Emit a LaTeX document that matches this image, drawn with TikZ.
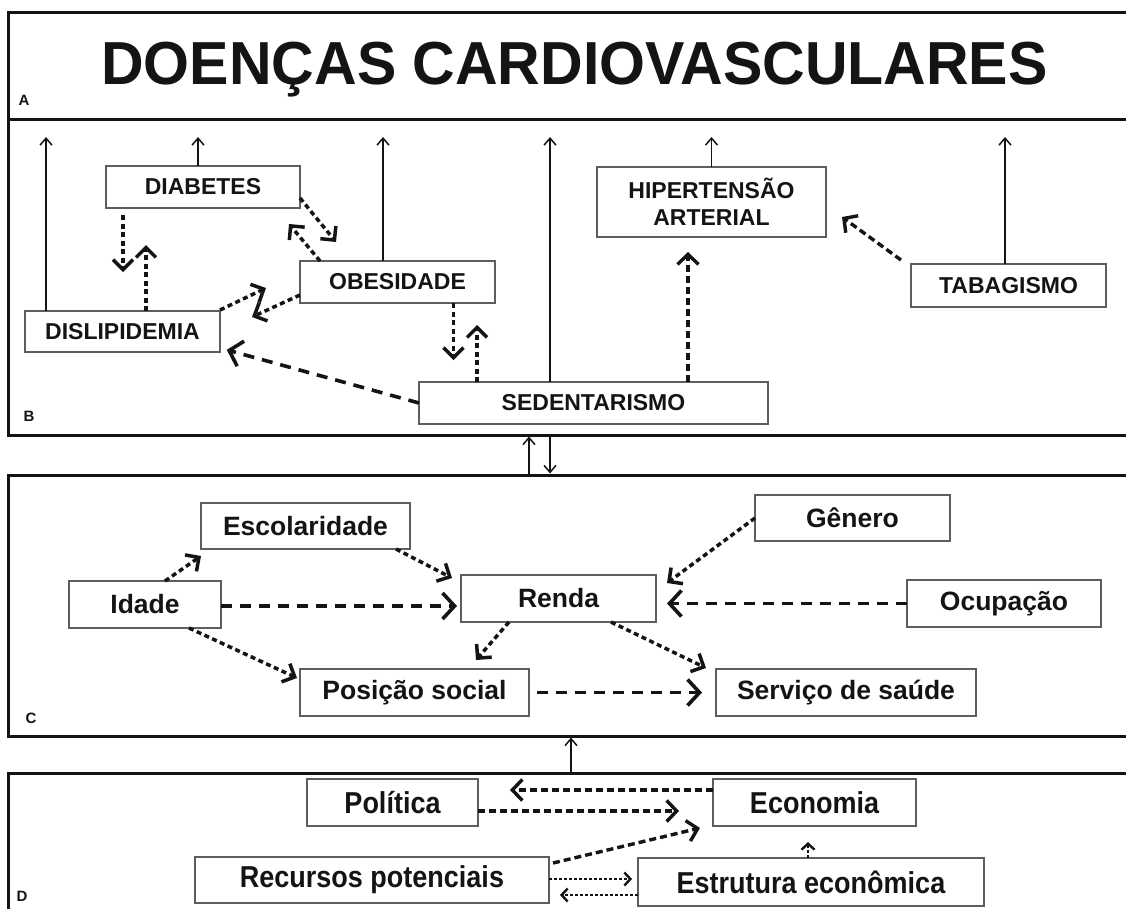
\documentclass[tikz,border=0pt]{standalone}
\usepackage{fontspec}
\setmainfont{Liberation Sans}
\usetikzlibrary{arrows.meta}
\definecolor{boxgray}{HTML}{5E5E5E}
\definecolor{ink}{HTML}{141414}
\tikzset{
  panel/.style={draw=ink, line width=3pt, rectangle, inner sep=0pt, outer sep=0pt},
  box/.style={draw=boxgray, line width=1.5pt, fill=white, rectangle, inner sep=0pt, outer sep=0pt, align=center, text=ink, font=\bfseries\fontsize{23}{27}\selectfont},
  boxc/.style={box, font=\bfseries\fontsize{26.5}{30}\selectfont},
  boxd/.style={box, font=\bfseries\fontsize{27}{30}\selectfont},
  solidarr/.style={draw=ink, line width=1.5pt, -{Straight Barb[length=7pt,width=12pt]}},
  dotarr/.style={draw=ink, line width=3.5pt, dash pattern=on 5pt off 3.5pt, -{Straight Barb[length=10pt,width=20pt]}},
  middash/.style={draw=ink, line width=3.4pt, dash pattern=on 7pt off 4pt, -{Straight Barb[length=10pt,width=21pt]}},
  dasharr/.style={draw=ink, line width=3.6pt, dash pattern=on 11pt off 8pt, -{Straight Barb[length=12pt,width=26pt]}},
  finearr/.style={draw=ink, line width=2.4pt, dash pattern=on 3pt off 2pt, -{Straight Barb[length=6pt,width=13pt]}},
  lbl/.style={font=\bfseries\fontsize{15}{15}\selectfont, text=ink, inner sep=0pt},
}
\newcommand{\tallD}[1]{\scalebox{1}[1.12]{#1}}
\begin{document}
\begin{tikzpicture}[x=1pt,y=-1pt]
\useasboundingbox (0,0) rectangle (1126,908);
\fill[white] (0,0) rectangle (1126,908);
\clip (0,0) rectangle (1126,908);

% panels
\node[panel, minimum width=1132pt, minimum height=107pt] (pA) at (574,65.5) {};
\node[panel, minimum width=1132pt, minimum height=316pt] (pB) at (574,277) {};
\node[panel, minimum width=1132pt, minimum height=261pt] (pC) at (574,605.5) {};
\node[panel, minimum width=1132pt, minimum height=157pt] (pD) at (574,851.5) {};

% title and panel letters
\node[font=\bfseries\fontsize{59}{60}\selectfont, text=ink, inner sep=0pt] (title) at (574.5,70) {\scalebox{1}[1.03]{DOENÇAS CARDIOVASCULARES}};
\node[lbl] (la) at (24,100) {A};
\node[lbl] (lb) at (29,416) {B};
\node[lbl] (lc) at (31,718) {C};
\node[lbl] (ld) at (22,896) {D};

% panel B boxes
\node[box, minimum width=194pt, minimum height=42pt] (diab) at (203,187) {DIABETES};
\node[box, minimum width=195pt, minimum height=41pt] (disl) at (122.5,331.5) {DISLIPIDEMIA};
\node[box, minimum width=195pt, minimum height=42pt] (obes) at (397.5,282) {OBESIDADE};
\node[box, minimum width=349pt, minimum height=42pt] (sed) at (593.5,403) {SEDENTARISMO};
\node[box, minimum width=229pt, minimum height=70pt] (hip) at (711.5,202) {HIPERTENSÃO\\ARTERIAL};
\node[box, minimum width=195pt, minimum height=43pt] (tab) at (1008.5,285.5) {TABAGISMO};

% panel C boxes
\node[boxc, minimum width=209pt, minimum height=46pt] (esc) at (305.5,526) {Escolaridade};
\node[boxc, minimum width=152pt, minimum height=47pt] (idade) at (145,604.5) {Idade};
\node[boxc, minimum width=195pt, minimum height=47pt] (renda) at (558.5,598.5) {Renda};
\node[boxc, minimum width=229pt, minimum height=47pt] (pos) at (414.5,692.5) {Posição social};
\node[boxc, minimum width=195pt, minimum height=46pt] (gen) at (852.5,518) {Gênero};
\node[boxc, minimum width=194pt, minimum height=47pt] (ocup) at (1004,603.5) {Ocupação};
\node[boxc, minimum width=260pt, minimum height=47pt] (serv) at (846,692.5) {Serviço de saúde};

% panel D boxes
\node[boxd, minimum width=171pt, minimum height=47pt] (pol) at (392.5,802.5) {\tallD{Política}};
\node[boxd, minimum width=203pt, minimum height=47pt] (eco) at (814.5,802.5) {\tallD{Economia}};
\node[boxd, minimum width=354pt, minimum height=46pt] (rec) at (372,880) {\tallD{Recursos potenciais}};
\node[boxd, minimum width=346pt, minimum height=48pt] (est) at (811,882) {\tallD{Estrutura econômica}};

% panel B solid arrows to A
\draw[solidarr] ([xshift=21pt]disl.north west) -- ++(0,-174);
\draw[solidarr] ([xshift=-5pt]diab.north) -- ++(0,-29);
\draw[solidarr] ([xshift=83pt]obes.north west) -- ++(0,-124);
\draw[solidarr] ([xshift=131pt]sed.north west) -- ++(0,-245);
\draw[solidarr] (hip.north) -- ++(0,-30);
\draw[solidarr] ([xshift=-3.5pt]tab.north) -- ++(0,-127);

% between panels
\draw[solidarr, shorten >=1.5pt] ([xshift=521pt,yshift=-1.5pt]pC.north west) -- ([xshift=521pt]pC.north west |- pB.south);
\draw[solidarr, shorten >=1.5pt] ([xshift=542pt,yshift=-1.5pt]pB.south west) -- ([xshift=542pt]pB.south west |- pC.north);
\draw[solidarr, shorten >=1.5pt] ([xshift=563pt,yshift=1.5pt]pD.north west) -- ([xshift=563pt]pD.north west |- pC.south);

% panel B dotted arrows
\draw[dotarr] ([xshift=17pt,yshift=-7pt]diab.south west) -- ++(0,57);
\draw[dotarr] ([xshift=121pt]disl.north west) -- ++(0,-66);
\draw[dotarr] ([yshift=-11pt]diab.east) -- ++(36,44);
\draw[dotarr] ([xshift=20pt]obes.north west) -- ++(-31,-37);
\draw[dotarr] ([yshift=1pt]disl.north east) -- ++(46,-22);
\draw[dotarr] ([yshift=8pt]obes.south west) -- ++(-48,22);
\draw[dotarr] ([xshift=153.5pt]obes.south west) -- ++(0,57);
\draw[dotarr] ([xshift=58pt]sed.north west) -- ++(0,-57);
\draw[middash, shorten >=15pt] ([xshift=269pt]sed.north west) -- ([xshift=91pt]hip.south west);
\draw[middash] ([xshift=-10pt,yshift=4pt]tab.north west) -- ++(-59,-43);
\draw[dasharr, shorten >=7pt] (sed.west) -- ([yshift=4pt]disl.south east);

% panel C arrows
\draw[dotarr] ([xshift=96pt]idade.north west) -- ++(36,-25);
\draw[dotarr] ([xshift=-14pt]esc.south east) -- ++(56,29);
\draw[dasharr, shorten >=4pt] ([yshift=-1.5pt]idade.east) -- ([yshift=-7.5pt]renda.west);
\draw[dotarr] ([xshift=-32pt]idade.south east) -- ++(108,50);
\draw[dotarr] ([xshift=48pt]renda.south west) -- ++(-33,38);
\draw[dotarr] (gen.west) -- ++(-88,65);
\draw[dasharr, shorten >=11pt] (ocup.west) -- ([yshift=-5pt]renda.east);
\draw[dotarr] ([xshift=-45pt]renda.south east) -- ++(95,46);
\draw[dasharr, shorten <=8pt, shorten >=14pt] (pos.east) -- (serv.west);

% panel D arrows
\draw[middash, shorten >=32pt] ([yshift=12.5pt]eco.west) -- ([yshift=12.5pt]pol.east);
\draw[middash, shorten >=34pt] ([yshift=-8.5pt]pol.east) -- ([yshift=-8.5pt]eco.west);
\draw[middash] ([xshift=4pt,yshift=-6pt]rec.north east) -- ++(147,-35);
\draw[finearr] ([xshift=-3pt]est.north) -- ++(0,-16);
\draw[finearr, shorten >=6pt] ([yshift=1pt]rec.east) -- ([yshift=3pt]est.west);
\draw[finearr, shorten >=11pt] ([yshift=-13pt]est.west) -- ([yshift=-15pt]rec.east);
\end{tikzpicture}
\end{document}
